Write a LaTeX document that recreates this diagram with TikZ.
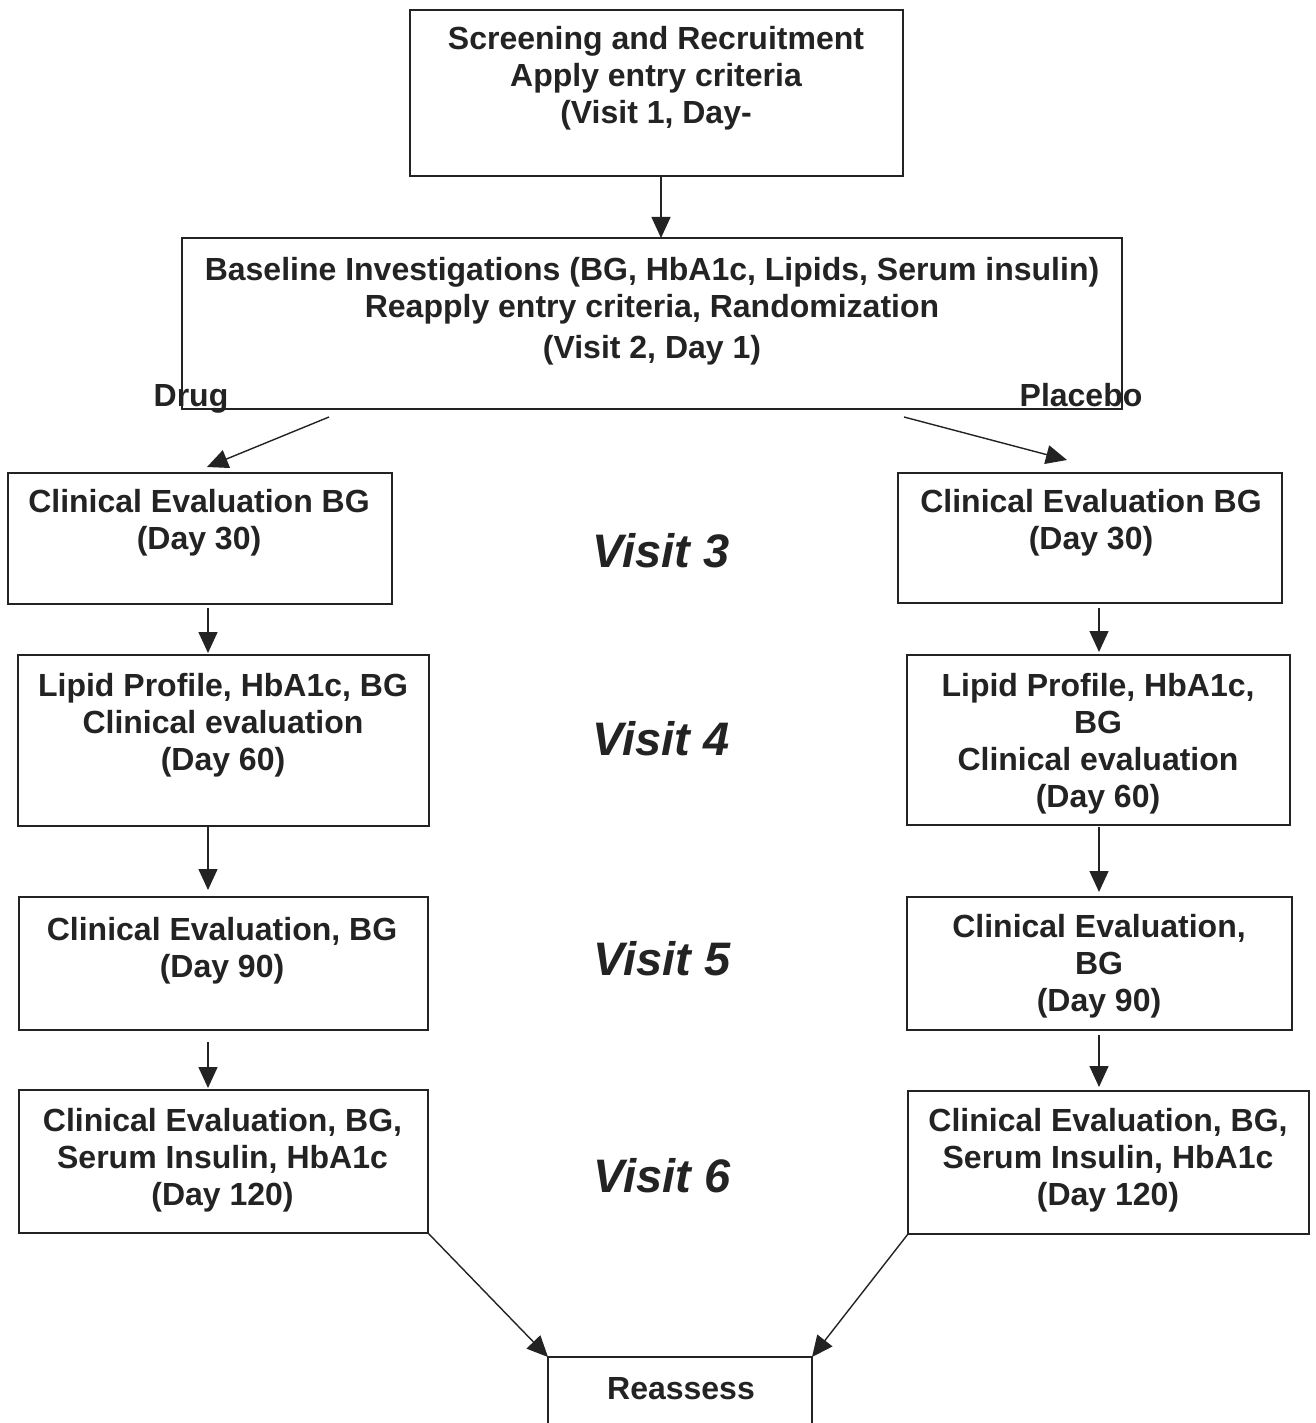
\documentclass[tikz,border=0pt]{standalone}
\usepackage{fontspec}
\setmainfont{Liberation Sans}
\usetikzlibrary{arrows.meta}
\definecolor{ink}{RGB}{35,35,35}
\newcommand{\boxtext}[1]{\begin{tabular}[t]{@{}c@{}}#1\end{tabular}}
\begin{document}
\begin{tikzpicture}[x=1pt,y=-1pt,
  box/.style n args={2}{draw=ink, line width=2pt, inner sep=0pt, outer sep=0pt,
    minimum width=#1, minimum height=#2},
  txt/.style={inner sep=0pt, anchor=base, text=ink,
    font=\fontsize{32}{37}\selectfont\bfseries},
  visit/.style={inner sep=0pt, anchor=base, text=ink,
    font=\fontsize{47}{50}\selectfont\bfseries\itshape},
  arr/.style={draw=ink, line width=1.4pt, -{Triangle[length=21pt,width=19pt]}}]
\useasboundingbox (0,0) rectangle (1316,1423);
\fill[white] (0,0) rectangle (1316,1423);
\clip (0,0) rectangle (1316,1423);

% boxes
\node[box={493pt}{166pt}] (top) at (656.5,93) {};
\node[box={940pt}{171pt}] (base) at (652,323.5) {};
\node[box={384pt}{131pt}] (L1) at (200,538.5) {};
\node[box={411pt}{171pt}] (L2) at (223.5,740.5) {};
\node[box={409pt}{133pt}] (L3) at (223.5,963.5) {};
\node[box={409pt}{143pt}] (L4) at (223.5,1161.5) {};
\node[box={384pt}{130pt}] (R1) at (1090,538) {};
\node[box={383pt}{170pt}] (R2) at (1098.5,740) {};
\node[box={385pt}{133pt}] (R3) at (1099.5,963.5) {};
\node[box={401pt}{143pt}] (R4) at (1108.5,1162.5) {};
\node[box={264pt}{88pt}] (RA) at (680,1401) {};

% texts
\node[txt] (tTop) at (656,50) {\boxtext{Screening and Recruitment\\Apply entry criteria\\(Visit 1, Day-}};
\node[txt] (tBase) at (652,280) {\boxtext{Baseline Investigations (BG, HbA1c, Lipids, Serum insulin)\\Reapply entry criteria, Randomization\\[4pt](Visit 2, Day 1)}};
\node[txt] (tDrug) at (191,406) {Drug};
\node[txt] (tPlac) at (1081,406) {Placebo};
\node[txt] (tL1) at (199,512) {\boxtext{Clinical Evaluation BG\\(Day 30)}};
\node[txt] (tL2) at (223,696) {\boxtext{Lipid Profile, HbA1c, BG\\Clinical evaluation\\(Day 60)}};
\node[txt] (tL3) at (222,940) {\boxtext{Clinical Evaluation, BG\\(Day 90)}};
\node[txt] (tL4) at (222.5,1131) {\boxtext{Clinical Evaluation, BG,\\Serum Insulin, HbA1c\\(Day 120)}};
\node[txt] (tR1) at (1091,512) {\boxtext{Clinical Evaluation BG\\(Day 30)}};
\node[txt] (tR2) at (1098,696) {\boxtext{Lipid Profile, HbA1c,\\BG\\Clinical evaluation\\(Day 60)}};
\node[txt] (tR3) at (1099,937) {\boxtext{Clinical Evaluation,\\BG\\(Day 90)}};
\node[txt] (tR4) at (1108,1131) {\boxtext{Clinical Evaluation, BG,\\Serum Insulin, HbA1c\\(Day 120)}};
\node[txt] (tRA) at (681,1399) {Reassess};

\node[visit] (v3) at (661,567) {Visit 3};
\node[visit] (v4) at (661,755) {Visit 4};
\node[visit] (v5) at (662,975) {Visit 5};
\node[visit] (v6) at (662,1192) {Visit 6};

% columns
\coordinate (cT) at (661,0);
\coordinate (cL) at (208,0);
\coordinate (cR) at (1099,0);

% connectors
\draw[arr] (top.south -| cT) -- (base.north -| cT);
\draw[arr] ([xshift=147pt,yshift=-8pt]base.south west) -- ([xshift=199pt,yshift=6pt]L1.north west);
\draw[arr] ([xshift=-218pt,yshift=-8pt]base.south east) -- ([xshift=169pt,yshift=13pt]R1.north west);
\draw[arr, shorten <=4pt, shorten >=2pt] (L1.south -| cL) -- (L2.north -| cL);
\draw[arr, shorten <=1pt, shorten >=7pt] (L2.south -| cL) -- (L3.north -| cL);
\draw[arr, shorten <=12pt, shorten >=2pt] (L3.south -| cL) -- (L4.north -| cL);
\draw[arr, shorten <=5pt, shorten >=3pt] (R1.south -| cR) -- (R2.north -| cR);
\draw[arr, shorten <=2pt, shorten >=5pt] (R2.south -| cR) -- (R3.north -| cR);
\draw[arr, shorten <=5pt, shorten >=4pt] (R3.south -| cR) -- (R4.north -| cR);
\draw[arr] (L4.south east) -- (RA.north west);
\draw[arr] (R4.south west) -- (RA.north east);
\end{tikzpicture}
\end{document}
